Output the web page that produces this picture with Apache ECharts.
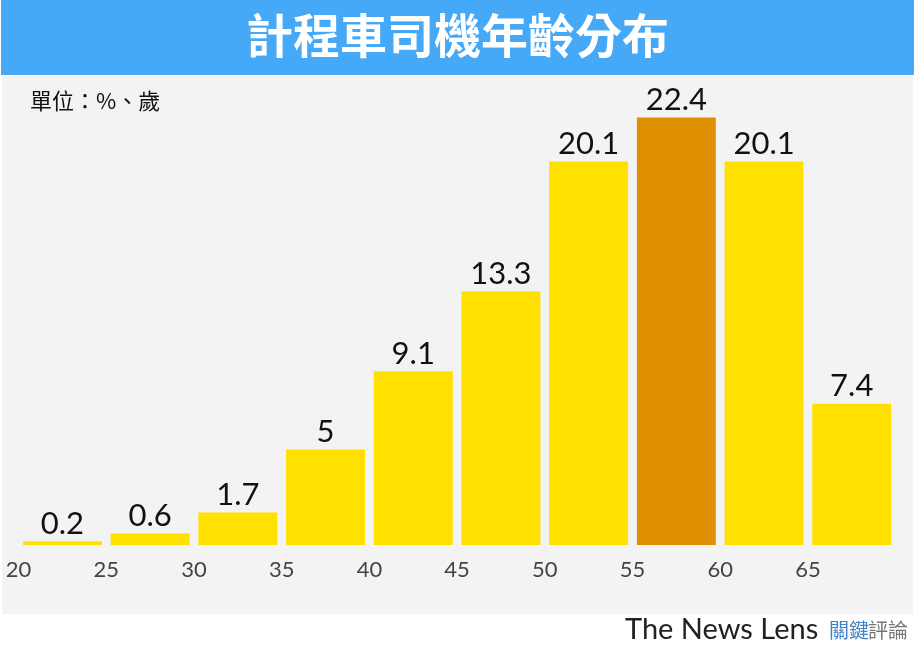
<!DOCTYPE html>
<html>
<head>
<meta charset="utf-8">
<script src="https://cdn.jsdelivr.net/npm/echarts@6/dist/echarts.min.js"></script>
<style>
html,body{margin:0;padding:0;background:#fff;}
#c{width:915px;height:650px;}
</style>
</head>
<body>
<div id="c"></div>
<script>
const titleText = '計程車司機年齡分布';
const unitText = '單位：%、歲';
const categories = ['20', '25', '30', '35', '40', '45', '50', '55', '60', '65'];
const values = [0.2, 0.6, 1.7, 5, 9.1, 13.3, 20.1, 22.4, 20.1, 7.4];
const tickLabels = ['20', '25', '30', '35', '40', '45', '50', '55', '60', '65'];
const highlightCategory = '55';

const chart = echarts.init(document.getElementById('c'), null, {renderer: 'canvas'});
const option = {
  animation: false,
  backgroundColor: '#ffffff',
  title: {
    text: titleText,
    left: 'center',
    top: 7,
    textStyle: {color: '#ffffff', fontSize: 47, fontWeight: 'bold', fontFamily: 'Noto Sans CJK TC'}
  },
  graphic: [
    {type: 'rect', z: -10, shape: {x: 1, y: 0, width: 913, height: 75}, style: {fill: '#46a9f8'}},
    {type: 'rect', z: -10, shape: {x: 2, y: 76, width: 911, height: 538}, style: {fill: '#f3f3f3'}},
    {type: 'text', left: 30, top: 90, style: {text: unitText, fontSize: 22, fill: '#111', fontFamily: 'Noto Sans CJK TC'}},
    {type: 'text', left: 625, top: 615, style: {text: 'The News Lens', fontSize: 29, fill: '#222', fontFamily: 'Lato'}},
    {type: 'text', left: 829, top: 620, style: {text: '關鍵', fontSize: 20, fill: '#3f82c6', fontFamily: 'Noto Sans CJK TC'}},
    {type: 'text', left: 868, top: 620, style: {text: '評論', fontSize: 20, fill: '#777', fontFamily: 'Noto Sans CJK TC'}}
  ],
  grid: {left: 18.6, right: 19.4, top: 68, bottom: 105, containLabel: false},
  xAxis: [
    {
      type: 'category', data: categories, boundaryGap: true,
      axisLine: {show: false}, axisTick: {show: false}, axisLabel: {show: false}
    },
    {
      type: 'value', position: 'bottom', min: 20, max: 70, interval: 5,
      axisLine: {show: false}, axisTick: {show: false}, splitLine: {show: false},
      axisLabel: {
        margin: 14, fontSize: 22, color: '#444', fontFamily: 'Lato',
        formatter: function (v) { const s = String(v); return tickLabels.indexOf(s) >= 0 ? s : ''; }
      }
    }
  ],
  yAxis: {type: 'value', min: 0, max: 25, show: false, splitLine: {show: false}},
  series: [{
    type: 'bar',
    xAxisIndex: 0,
    data: values,
    barCategoryGap: '10%',
    itemStyle: {
      color: function (p) { return categories[p.dataIndex] === highlightCategory ? '#df9000' : '#ffe000'; }
    },
    label: {
      show: true, position: 'top', distance: 2,
      fontSize: 31, color: '#111', fontFamily: 'Lato'
    }
  }]
};
chart.setOption(option);
</script>
</body>
</html>
